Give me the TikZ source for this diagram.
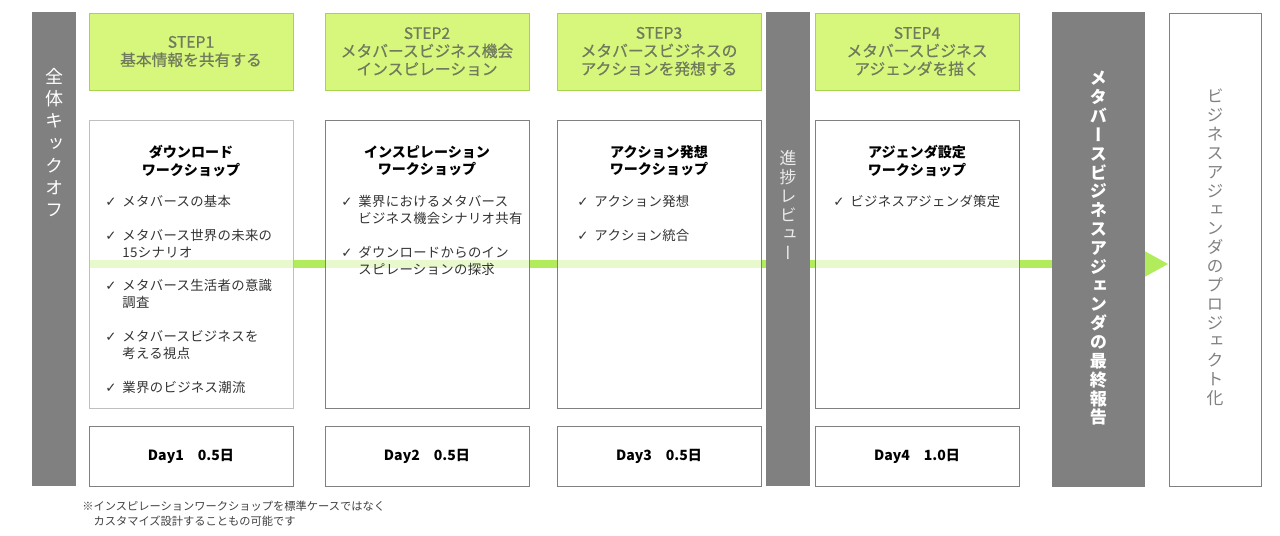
\documentclass[tikz,border=0pt]{standalone}
\usepackage{fontspec}
\setmainfont{Noto Sans CJK JP}
\newfontfamily\vjp{Noto Sans CJK JP}[RawFeature=+vert]
\newfontfamily\stepjp{Noto Sans CJK JP}[FakeBold=0.6]
\newfontfamily\listjp{Noto Sans CJK JP}[LetterSpace=2.5]
\newfontfamily\symf{DejaVu Sans}
\usetikzlibrary{arrows.meta}
\definecolor{stepfill}{RGB}{214,246,124}
\definecolor{stepline}{RGB}{166,212,78}
\definecolor{steptext}{RGB}{112,122,92}
\definecolor{flowgreen}{RGB}{178,236,92}
\definecolor{bargray}{RGB}{128,128,128}
\newcommand{\chk}{{\symf\char"2713}\hspace{0.45em}}
\newcommand{\cont}{\hphantom{\chk}}
\tikzset{%
  stepbox/.style={draw=stepline,fill=stepfill,text=steptext,minimum width=5.1cm,minimum height=1.925cm,align=center,font=\stepjp\fontsize{11.2}{12.8}\selectfont},
  workbox/.style={draw=black!50,line width=0.6pt,fill=white,fill opacity=0.7,minimum width=5.1cm,minimum height=7.2cm},
  daybox/.style={draw=black!50,line width=0.6pt,minimum width=5.1cm,minimum height=1.5cm,font=\bfseries\fontsize{10}{12}\selectfont},
  grayband/.style={fill=bargray,minimum height=11.85cm},
  vlabel/.style={anchor=north,align=center,inner sep=0pt},
  whead/.style={anchor=north,align=center,inner sep=0pt,font=\bfseries\fontsize{10}{12.4}\selectfont},
  wlist/.style={anchor=north west,align=left,inner sep=0pt,text=black!80,font=\listjp\fontsize{9.5}{12}\selectfont}
}
\begin{document}
\begin{tikzpicture}[x=0.025cm,y=-0.025cm]
  \useasboundingbox (0,0) rectangle (1280,536);
  \path
    (191,51.5) node[stepbox] (step1) {STEP1\\基本情報を共有する}
    (427,51.5) node[stepbox] (step2) {STEP2\\メタバースビジネス機会\\インスピレーション}
    (659,51.5) node[stepbox] (step3) {STEP3\\メタバースビジネスの\\アクションを発想する}
    (917,51.5) node[stepbox] (step4) {STEP4\\メタバースビジネス\\アジェンダを描く};
  \path
    (191,456) node[daybox] (day1) {Day1　0.5日}
    (427,456) node[daybox] (day2) {Day2　0.5日}
    (659,456) node[daybox] (day3) {Day3　0.5日}
    (917,456) node[daybox] (day4) {Day4　1.0日};
  \node[draw=bargray,line width=0.6pt,minimum width=2.3cm,minimum height=11.825cm] (project) at (1215,249.5) {};
  \coordinate (flowstart) at (89,264);
  \draw[flowgreen,line width=0.2cm,-{Triangle[length=0.6cm,width=0.6cm]}] (flowstart) -- (flowstart -| project.west);
  \path
    (191,264) node[workbox,draw=black!25] (work1) {}
    (427,264) node[workbox] (work2) {}
    (659,264) node[workbox] (work3) {}
    (917,264) node[workbox] (work4) {};
  \path
    (54,249) node[grayband,minimum width=1.1cm] (kickoff) {}
    (788,249) node[grayband,minimum width=1.1cm] (review) {}
    (1098.5,249.5) node[grayband,minimum width=2.325cm] (report) {};
  \node[vlabel,text=white,font=\vjp\fontsize{12.8}{15.8}\selectfont] (kicktext) at (kickoff.north |- 0,68) {全\\体\\キ\\ッ\\ク\\オ\\フ};
  \node[vlabel,text=white!92!black,font=\vjp\fontsize{12}{13.5}\selectfont] (reviewtext) at (review.north |- 0,150) {進\\捗\\レ\\ビ\\ュ\\ー};
  \node[vlabel,text=white,font=\vjp\bfseries\fontsize{12.2}{13.4}\selectfont] (reporttext) at (report.north |- 0,71) {メ\\タ\\バ\\ー\\ス\\ビ\\ジ\\ネ\\ス\\ア\\ジ\\ェ\\ン\\ダ\\の\\最\\終\\報\\告};
  \node[vlabel,text=bargray,font=\vjp\fontsize{12}{13.4}\selectfont] (projecttext) at (project.north |- 0,89) {ビ\\ジ\\ネ\\ス\\ア\\ジ\\ェ\\ン\\ダ\\の\\プ\\ロ\\ジ\\ェ\\ク\\ト\\化};
  \node[whead] (head1) at (191,145) {ダウンロード\\ワークショップ};
  \node[whead] (head2) at (427,145) {インスピレーション\\ワークショップ};
  \node[whead] (head3) at (659,145) {アクション発想\\ワークショップ};
  \node[whead] (head4) at (917,145) {アジェンダ設定\\ワークショップ};
  \node[wlist] (list1) at (105,195) {\chk メタバースの基本\\[12pt]
    \chk メタバース世界の未来の\\ \cont 15シナリオ\\[12pt]
    \chk メタバース生活者の意識\\ \cont 調査\\[12pt]
    \chk メタバースビジネスを\\ \cont 考える視点\\[12pt]
    \chk 業界のビジネス潮流};
  \node[wlist] (list2) at (341,195) {\chk 業界におけるメタバース\\ \cont ビジネス機会シナリオ共有\\[12pt]
    \chk ダウンロードからのイン\\ \cont スピレーションの探求};
  \node[wlist] (list3) at (577,195) {\chk アクション発想\\[12pt]
    \chk アクション統合};
  \node[wlist] (list4) at (833,195) {\chk ビジネスアジェンダ策定};
  \node[anchor=north west,align=left,inner sep=0pt,text=black!75,font=\fontsize{8}{10.6}\selectfont] (note) at (82,501) {※インスピレーションワークショップを標準ケースではなく\\　カスタマイズ設計することもの可能です};
\end{tikzpicture}
\end{document}
